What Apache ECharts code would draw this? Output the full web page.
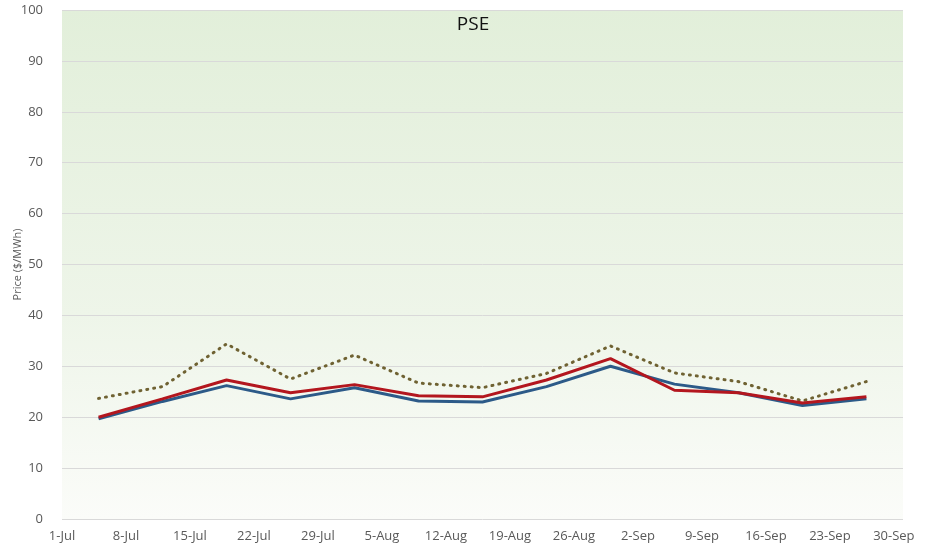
<!DOCTYPE html>
<html>
<head>
<meta charset="utf-8">
<title>PSE</title>
<script src="https://cdn.jsdelivr.net/npm/echarts@6/dist/echarts.min.js"></script>
<style>
  html, body { margin: 0; padding: 0; background: #fff; }
  #chart { width: 943px; height: 546px; }
</style>
</head>
<body>
<div id="chart"></div>
<script>
// weekly points
const weeks = ['5-Jul', '12-Jul', '19-Jul', '26-Jul', '2-Aug', '9-Aug', '16-Aug',
  '23-Aug', '30-Aug', '6-Sep', '13-Sep', '20-Sep', '27-Sep'];
const redValues = [20.0, 23.6, 27.3, 24.8, 26.4, 24.2, 24.0, 27.3, 31.5, 25.3, 24.8, 22.8, 24.0];
const blueValues = [19.7, 23.1, 26.2, 23.6, 25.8, 23.2, 23.0, 26.0, 30.0, 26.5, 24.8, 22.3, 23.6];
const dottedValues = [23.7, 26.0, 34.4, 27.5, 32.2, 26.7, 25.8, 28.6, 34.0, 28.7, 27.0, 23.2, 27.0];
const tickLabels = ['1-Jul', '8-Jul', '15-Jul', '22-Jul', '29-Jul', '5-Aug', '12-Aug',
  '19-Aug', '26-Aug', '2-Sep', '9-Sep', '16-Sep', '23-Sep', '30-Sep'];

const monthStart = { Jul: 0, Aug: 31, Sep: 62 };
function dayOf(s) {
  const [d, m] = s.split('-');
  return Number(d) - 1 + monthStart[m];
}
function pairs(vals) {
  return vals.map((v, i) => [dayOf(weeks[i]), v]);
}

const font = "'Open Sans', 'Liberation Sans', sans-serif";
const chart = echarts.init(document.getElementById('chart'));

chart.setOption({
  animation: false,
  backgroundColor: '#fff',
  title: {
    text: 'PSE',
    left: 468,
    top: 10,
    textAlign: 'center',
    textStyle: { fontFamily: font, fontSize: 19, fontWeight: 'normal', color: '#111' }
  },
  grid: {
    left: 62, right: 40, top: 10, bottom: 27,
    outerBoundsMode: 'none',
    containLabel: false,
    show: true,
    borderWidth: 0,
    backgroundColor: new echarts.graphic.LinearGradient(0, 0, 0, 1, [
      { offset: 0, color: '#e2efda' },
      { offset: 0.6, color: '#eef5e9' },
      { offset: 1, color: '#fbfcf9' }
    ])
  },
  xAxis: {
    type: 'value',
    min: 0,
    max: 92,
    interval: 7,
    axisLine: { show: false },
    axisTick: { show: false },
    splitLine: { show: false },
    axisLabel: {
      showMaxLabel: false,
      margin: 11,
      fontFamily: font,
      fontSize: 13,
      color: '#595959',
      formatter: v => tickLabels[v / 7] || ''
    }
  },
  yAxis: {
    type: 'value',
    min: 0,
    max: 100,
    interval: 10,
    name: 'Price ($/MWh)',
    nameLocation: 'middle',
    nameGap: 39,
    nameMoveOverlap: false,
    nameTextStyle: { fontFamily: font, fontSize: 11, color: '#595959' },
    axisLine: { show: false },
    axisTick: { show: false },
    axisLabel: { margin: 19, fontFamily: font, fontSize: 13, color: '#595959' },
    splitLine: { lineStyle: { color: '#d9d9d9', width: 1 } }
  },
  series: [
    {
      name: 'Series 3',
      type: 'line',
      data: pairs(dottedValues),
      symbol: 'none',
      lineStyle: { color: '#6f6232', width: 3, type: [1, 6], cap: 'round' }
    },
    {
      name: 'Series 2',
      type: 'line',
      data: pairs(blueValues),
      symbol: 'none',
      lineStyle: { color: '#2c5a88', width: 3 }
    },
    {
      name: 'Series 1',
      type: 'line',
      data: pairs(redValues),
      symbol: 'none',
      lineStyle: { color: '#b3161e', width: 3 }
    }
  ]
});
</script>
</body>
</html>
